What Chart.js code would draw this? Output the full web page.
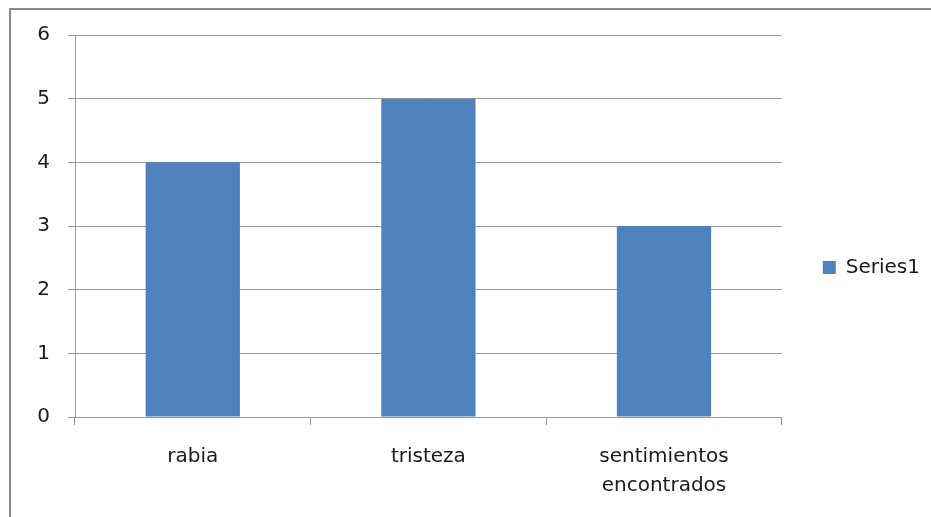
<!DOCTYPE html>
<html>
<head>
<meta charset="utf-8">
<script src="https://cdn.jsdelivr.net/npm/chart.js@4"></script>
<style>
  html, body { margin: 0; padding: 0; background: #fff; overflow: hidden; }
  #wrap { position: relative; width: 931px; height: 517px; overflow: hidden; }
  #frame { position: absolute; left: 9px; top: 8px; width: 1000px; height: 600px; border: 2px solid #888; }
  #chart { position: absolute; left: 0; top: 0; }
</style>
</head>
<body>
<div id="wrap">
  <div id="frame"></div>
  <canvas id="chart" width="930" height="517"></canvas>
</div>
<script>
const categorias = ["rabia", "tristeza", ["sentimientos", "encontrados"]];
const valores = [4, 5, 3];
const serie = "Series1";
const yMin = 0, yMax = 6, yPaso = 1;

const fuente = { family: "DejaVu Sans", size: 20 };
const gris = "#9a9a9a";

var ctx = document.getElementById("chart");
var grafico = new Chart(ctx, {
	type: 'bar',
	data: {
		labels: categorias,
		datasets: [
			{
				label: serie,
				data: valores,
				backgroundColor: '#4f81bd',
				borderWidth: 0,
				categoryPercentage: 1,
				barPercentage: 0.4,
			},
		]
	},
	options: {
		responsive: false,
		animation: false,
		layout: { padding: { top: 35, bottom: 17, left: 0, right: 0 } },
		plugins: {
			tooltip: { enabled: false },
			legend: {
				position: 'right',
				labels: {
					boxWidth: 13,
					boxHeight: 13,
					padding: 41,
					color: '#1a1a1a',
					font: fuente,
				}
			}
		},
		scales: {
			x: {
				grid: { drawOnChartArea: false, drawTicks: true, tickLength: 8, color: gris, offset: true },
				border: { color: gris, width: 1 },
				ticks: { color: '#1a1a1a', font: { family: "DejaVu Sans", size: 20, lineHeight: 1.45 }, padding: 17, maxRotation: 0 },
				afterFit: function (escala) { escala.height = 83; }
			},
			y: {
				min: yMin,
				max: yMax,
				grid: { color: gris, tickLength: 7 },
				border: { color: gris, width: 1 },
				ticks: { stepSize: yPaso, color: '#1a1a1a', font: fuente, padding: 18 },
				afterFit: function (escala) { escala.width = 75; }
			}
		}
	}
});
</script>
</body>
</html>
